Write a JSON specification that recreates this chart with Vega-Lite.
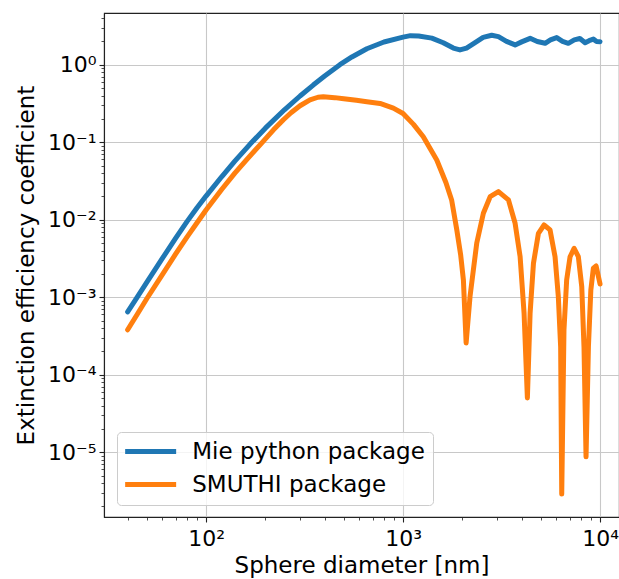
{
  "$schema": "https://vega.github.io/schema/vega-lite/v6.json",
  "autosize": "none",
  "width": 515,
  "height": 504,
  "padding": {"left": 104, "top": 13, "right": 0, "bottom": 62},
  "background": "white",
  "config": {
    "font": "DejaVu Sans",
    "view": {"stroke": "#222222", "strokeWidth": 1.1},
    "axis": {"domainColor": "#222222", "domainWidth": 1.1, "tickColor": "#222222", "labelColor": "#000000", "titleColor": "#000000", "labelFont": "DejaVu Sans", "titleFont": "DejaVu Sans", "labelFontSize": 22, "titleFontSize": 23, "titleFontWeight": "normal", "gridColor": "#c8c8c8", "gridWidth": 1.1, "labelOverlap": false, "labelFlush": false, "labelBound": false}
  },
  "data": {"values": [
    {"d": 40, "q": 0.000646, "s": "Mie python package"},
    {"d": 45, "q": 0.001023, "s": "Mie python package"},
    {"d": 50, "q": 0.001549, "s": "Mie python package"},
    {"d": 60, "q": 0.003162, "s": "Mie python package"},
    {"d": 70, "q": 0.005754, "s": "Mie python package"},
    {"d": 80, "q": 0.00944, "s": "Mie python package"},
    {"d": 90, "q": 0.01426, "s": "Mie python package"},
    {"d": 100, "q": 0.02018, "s": "Mie python package"},
    {"d": 120, "q": 0.03581, "s": "Mie python package"},
    {"d": 140, "q": 0.05689, "s": "Mie python package"},
    {"d": 167, "q": 0.09397, "s": "Mie python package"},
    {"d": 200, "q": 0.1517, "s": "Mie python package"},
    {"d": 250, "q": 0.2618, "s": "Mie python package"},
    {"d": 300, "q": 0.3945, "s": "Mie python package"},
    {"d": 350, "q": 0.5458, "s": "Mie python package"},
    {"d": 400, "q": 0.7129, "s": "Mie python package"},
    {"d": 478, "q": 1.0, "s": "Mie python package"},
    {"d": 550, "q": 1.259, "s": "Mie python package"},
    {"d": 655, "q": 1.607, "s": "Mie python package"},
    {"d": 800, "q": 1.963, "s": "Mie python package"},
    {"d": 1000, "q": 2.27, "s": "Mie python package"},
    {"d": 1090, "q": 2.371, "s": "Mie python package"},
    {"d": 1200, "q": 2.35, "s": "Mie python package"},
    {"d": 1400, "q": 2.2, "s": "Mie python package"},
    {"d": 1600, "q": 1.92, "s": "Mie python package"},
    {"d": 1800, "q": 1.64, "s": "Mie python package"},
    {"d": 1945, "q": 1.55, "s": "Mie python package"},
    {"d": 2100, "q": 1.64, "s": "Mie python package"},
    {"d": 2300, "q": 1.9, "s": "Mie python package"},
    {"d": 2550, "q": 2.25, "s": "Mie python package"},
    {"d": 2817, "q": 2.399, "s": "Mie python package"},
    {"d": 3050, "q": 2.3, "s": "Mie python package"},
    {"d": 3350, "q": 2.0, "s": "Mie python package"},
    {"d": 3706, "q": 1.8, "s": "Mie python package"},
    {"d": 4000, "q": 1.97, "s": "Mie python package"},
    {"d": 4418, "q": 2.188, "s": "Mie python package"},
    {"d": 4800, "q": 1.99, "s": "Mie python package"},
    {"d": 5260, "q": 1.888, "s": "Mie python package"},
    {"d": 5600, "q": 2.089, "s": "Mie python package"},
    {"d": 6026, "q": 2.24, "s": "Mie python package"},
    {"d": 6450, "q": 2.0, "s": "Mie python package"},
    {"d": 6900, "q": 1.888, "s": "Mie python package"},
    {"d": 7400, "q": 2.089, "s": "Mie python package"},
    {"d": 7900, "q": 2.18, "s": "Mie python package"},
    {"d": 8400, "q": 1.923, "s": "Mie python package"},
    {"d": 8800, "q": 2.042, "s": "Mie python package"},
    {"d": 9250, "q": 2.138, "s": "Mie python package"},
    {"d": 9600, "q": 1.995, "s": "Mie python package"},
    {"d": 10000, "q": 1.982, "s": "Mie python package"},
    {"d": 40, "q": 0.00038, "s": "SMUTHI package"},
    {"d": 45, "q": 0.000617, "s": "SMUTHI package"},
    {"d": 50, "q": 0.000955, "s": "SMUTHI package"},
    {"d": 60, "q": 0.00195, "s": "SMUTHI package"},
    {"d": 70, "q": 0.00359, "s": "SMUTHI package"},
    {"d": 80, "q": 0.00596, "s": "SMUTHI package"},
    {"d": 90, "q": 0.00912, "s": "SMUTHI package"},
    {"d": 100, "q": 0.01334, "s": "SMUTHI package"},
    {"d": 120, "q": 0.02455, "s": "SMUTHI package"},
    {"d": 140, "q": 0.03981, "s": "SMUTHI package"},
    {"d": 160, "q": 0.05888, "s": "SMUTHI package"},
    {"d": 192, "q": 0.09817, "s": "SMUTHI package"},
    {"d": 220, "q": 0.1445, "s": "SMUTHI package"},
    {"d": 247, "q": 0.195, "s": "SMUTHI package"},
    {"d": 270, "q": 0.2399, "s": "SMUTHI package"},
    {"d": 300, "q": 0.2951, "s": "SMUTHI package"},
    {"d": 337, "q": 0.3508, "s": "SMUTHI package"},
    {"d": 370, "q": 0.3802, "s": "SMUTHI package"},
    {"d": 394, "q": 0.3864, "s": "SMUTHI package"},
    {"d": 450, "q": 0.3758, "s": "SMUTHI package"},
    {"d": 500, "q": 0.3631, "s": "SMUTHI package"},
    {"d": 580, "q": 0.3467, "s": "SMUTHI package"},
    {"d": 655, "q": 0.3334, "s": "SMUTHI package"},
    {"d": 764, "q": 0.3162, "s": "SMUTHI package"},
    {"d": 893, "q": 0.2754, "s": "SMUTHI package"},
    {"d": 1000, "q": 0.2344, "s": "SMUTHI package"},
    {"d": 1130, "q": 0.1698, "s": "SMUTHI package"},
    {"d": 1267, "q": 0.1175, "s": "SMUTHI package"},
    {"d": 1483, "q": 0.0589, "s": "SMUTHI package"},
    {"d": 1650, "q": 0.0302, "s": "SMUTHI package"},
    {"d": 1766, "q": 0.01778, "s": "SMUTHI package"},
    {"d": 1874, "q": 0.00741, "s": "SMUTHI package"},
    {"d": 1960, "q": 0.00355, "s": "SMUTHI package"},
    {"d": 2025, "q": 0.00166, "s": "SMUTHI package"},
    {"d": 2090, "q": 0.000257, "s": "SMUTHI package"},
    {"d": 2188, "q": 0.001023, "s": "SMUTHI package"},
    {"d": 2367, "q": 0.00501, "s": "SMUTHI package"},
    {"d": 2557, "q": 0.0121, "s": "SMUTHI package"},
    {"d": 2768, "q": 0.0198, "s": "SMUTHI package"},
    {"d": 3050, "q": 0.023, "s": "SMUTHI package"},
    {"d": 3428, "q": 0.018, "s": "SMUTHI package"},
    {"d": 3706, "q": 0.00899, "s": "SMUTHI package"},
    {"d": 3929, "q": 0.00333, "s": "SMUTHI package"},
    {"d": 4115, "q": 0.000621, "s": "SMUTHI package"},
    {"d": 4277, "q": 0.0000501, "s": "SMUTHI package"},
    {"d": 4415, "q": 0.000621, "s": "SMUTHI package"},
    {"d": 4592, "q": 0.00274, "s": "SMUTHI package"},
    {"d": 4867, "q": 0.00668, "s": "SMUTHI package"},
    {"d": 5198, "q": 0.00855, "s": "SMUTHI package"},
    {"d": 5575, "q": 0.00738, "s": "SMUTHI package"},
    {"d": 5910, "q": 0.00333, "s": "SMUTHI package"},
    {"d": 6140, "q": 0.001023, "s": "SMUTHI package"},
    {"d": 6310, "q": 0.000229, "s": "SMUTHI package"},
    {"d": 6390, "q": 0.00000288, "s": "SMUTHI package"},
    {"d": 6560, "q": 0.00038, "s": "SMUTHI package"},
    {"d": 6770, "q": 0.00167, "s": "SMUTHI package"},
    {"d": 7045, "q": 0.00333, "s": "SMUTHI package"},
    {"d": 7385, "q": 0.00428, "s": "SMUTHI package"},
    {"d": 7760, "q": 0.00333, "s": "SMUTHI package"},
    {"d": 8075, "q": 0.00137, "s": "SMUTHI package"},
    {"d": 8290, "q": 0.000229, "s": "SMUTHI package"},
    {"d": 8490, "q": 0.00000871, "s": "SMUTHI package"},
    {"d": 8730, "q": 0.000229, "s": "SMUTHI package"},
    {"d": 8980, "q": 0.00124, "s": "SMUTHI package"},
    {"d": 9250, "q": 0.00237, "s": "SMUTHI package"},
    {"d": 9550, "q": 0.00253, "s": "SMUTHI package"},
    {"d": 10000, "q": 0.00148, "s": "SMUTHI package"}
  ]},
  "mark": {"type": "line", "strokeWidth": 5, "strokeCap": "round", "strokeJoin": "round", "clip": true},
  "encoding": {
    "x": {
      "field": "d", "type": "quantitative",
      "scale": {"type": "log", "domain": [30.34, 12480], "nice": false, "zero": false},
      "axis": {
        "title": "Sphere diameter [nm]",
        "titleBaseline": "alphabetic",
        "titleY": 55,
        "values": [40,50,60,70,80,90,100,200,300,400,500,600,700,800,900,1000,2000,3000,4000,5000,6000,7000,8000,9000,10000],
        "labelExpr": "datum.value==100?'10²':datum.value==1000?'10³':datum.value==10000?'10⁴':''",
        "labelBaseline": "alphabetic",
        "labelPadding": 23,
        "tickSize": {"condition": {"test": "datum.value==100||datum.value==1000||datum.value==10000", "value": 5}, "value": 3},
        "tickWidth": {"condition": {"test": "datum.value==100||datum.value==1000||datum.value==10000", "value": 1.1}, "value": 0.8},
        "gridOpacity": {"condition": {"test": "datum.value==100||datum.value==1000||datum.value==10000", "value": 1}, "value": 0},
        "grid": true
      }
    },
    "y": {
      "field": "q", "type": "quantitative",
      "scale": {"type": "log", "domain": [0.000001459, 4.645], "nice": false, "zero": false},
      "axis": {
        "title": "Extinction efficiency coefficient",
        "titleBaseline": "alphabetic",
        "titleX": -71,
        "titleY": 252,
        "values": [0.000002,0.000003,0.000004,0.000005,0.000006,0.000007,0.000008,0.000009,0.00001,0.00002,0.00003,0.00004,0.00005,0.00006,0.00007,0.00008,0.00009,0.0001,0.0002,0.0003,0.0004,0.0005,0.0006,0.0007,0.0008,0.0009,0.001,0.002,0.003,0.004,0.005,0.006,0.007,0.008,0.009,0.01,0.02,0.03,0.04,0.05,0.06,0.07,0.08,0.09,0.1,0.2,0.3,0.4,0.5,0.6,0.7,0.8,0.9,1,2,3,4],
        "labelExpr": "datum.value==1?'10⁰':datum.value==0.1?'10⁻¹':datum.value==0.01?'10⁻²':datum.value==0.001?'10⁻³':datum.value==0.0001?'10⁻⁴':datum.value==0.00001?'10⁻⁵':''",
        "labelPadding": 3,
        "tickSize": {"condition": {"test": "datum.value==1||datum.value==0.1||datum.value==0.01||datum.value==0.001||datum.value==0.0001||datum.value==0.00001", "value": 5}, "value": 3},
        "tickWidth": {"condition": {"test": "datum.value==1||datum.value==0.1||datum.value==0.01||datum.value==0.001||datum.value==0.0001||datum.value==0.00001", "value": 1.1}, "value": 0.8},
        "gridOpacity": {"condition": {"test": "datum.value==1||datum.value==0.1||datum.value==0.01||datum.value==0.001||datum.value==0.0001||datum.value==0.00001", "value": 1}, "value": 0},
        "grid": true
      }
    },
    "color": {
      "field": "s", "type": "nominal",
      "scale": {"domain": ["Mie python package", "SMUTHI package"], "range": ["#1f77b4", "#ff7f0e"]},
      "legend": {
        "orient": "none", "legendX": 13, "legendY": 419, "title": null,
        "symbolType": "M-1.78,0H6.22", "symbolSize": 162.56, "symbolStrokeWidth": 5,
        "labelFont": "DejaVu Sans", "labelFontSize": 23, "labelColor": "#000000", "labelOffset": 44.25, "labelLimit": 400,
        "padding": 8, "rowPadding": 9,
        "strokeColor": "#cccccc", "fillColor": "rgba(255,255,255,0.8)", "cornerRadius": 4
      }
    }
  }
}
